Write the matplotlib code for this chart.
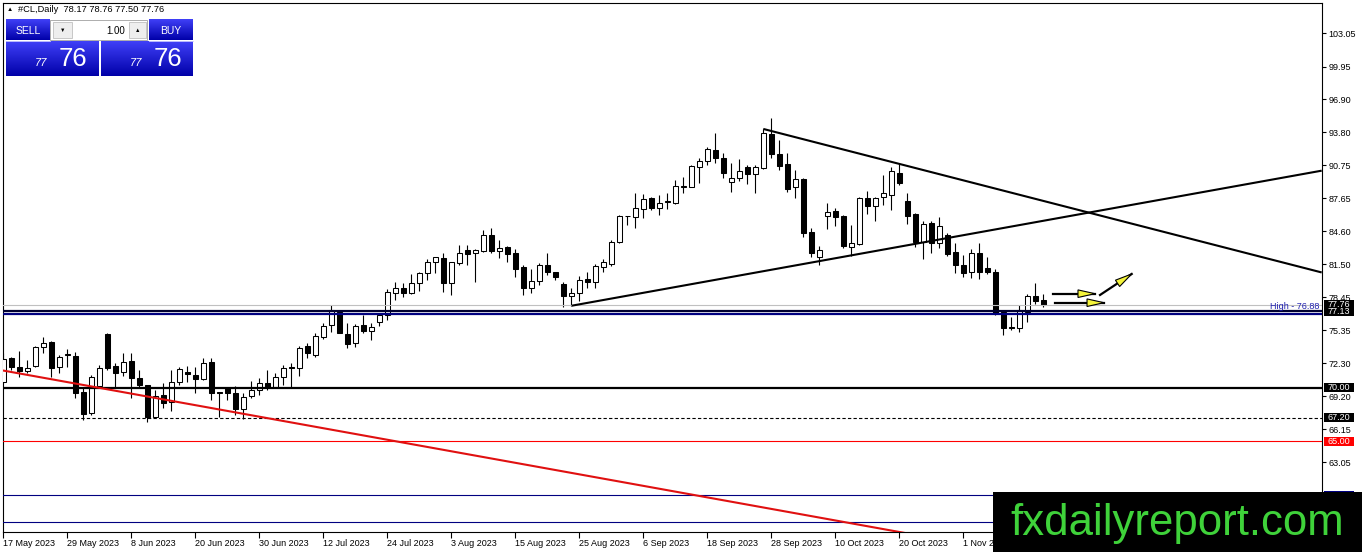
import matplotlib
matplotlib.use('Agg')
import matplotlib.pyplot as plt
from matplotlib.patches import Rectangle, Polygon
from matplotlib.transforms import IdentityTransform
import numpy as np

plt.rcParams['font.family'] = ['Liberation Sans', 'DejaVu Sans']

# ---------------- data ----------------
opens = [70.57, 72.74, 71.90, 71.59, 72.06, 73.77, 74.27, 71.90, 73.05, 72.96,
         69.64, 67.62, 70.20, 75.01, 72.03, 71.50, 72.50, 70.88, 70.23, 67.24,
         69.29, 68.70, 70.51, 71.44, 71.19, 70.82, 72.43, 69.60, 69.95, 69.48,
         67.99, 69.23, 69.79, 70.41, 70.10, 70.97, 71.93, 71.81, 73.89, 73.05,
         74.76, 75.85, 77.09, 74.98, 74.14, 75.82, 75.32, 76.16, 76.78, 78.80,
         79.27, 78.87, 79.74, 80.67, 81.69, 82.07, 79.74, 81.66, 82.85, 82.53,
         82.78, 84.24, 82.78, 83.09, 82.53, 81.23, 79.27, 79.99, 81.45, 80.82,
         79.67, 78.56, 78.87, 80.14, 79.89, 81.29, 81.54, 83.62, 86.02, 85.89,
         86.64, 87.66, 86.73, 87.32, 87.26, 88.72, 88.75, 90.61, 91.17, 92.17,
         91.39, 89.22, 89.53, 90.55, 89.90, 90.46, 93.66, 91.80, 90.86, 88.69,
         89.47, 84.55, 82.22, 86.02, 86.48, 86.02, 83.16, 83.40, 87.66, 86.98,
         87.76, 87.97, 89.99, 87.44, 86.17, 83.62, 85.39, 83.47, 84.24, 82.69,
         81.45, 80.82, 82.60, 81.14, 80.82, 77.09, 75.63, 75.54, 77.09, 78.56,
         78.17]
highs = [73.21, 72.84, 73.43, 72.59, 73.89, 74.76, 74.36, 73.05, 73.58, 73.37,
         70.10, 71.19, 72.12, 75.07, 72.34, 73.21, 73.21, 71.66, 70.23, 69.79,
         70.41, 71.66, 71.97, 72.03, 71.97, 72.74, 72.74, 69.62, 70.01, 70.17,
         69.54, 70.66, 70.88, 71.70, 71.34, 72.12, 72.28, 73.89, 74.20, 75.07,
         76.01, 77.72, 77.25, 76.07, 75.95, 76.78, 76.01, 77.00, 79.21, 79.89,
         79.74, 80.61, 80.82, 82.01, 82.22, 82.53, 81.76, 83.31, 83.31, 82.91,
         84.71, 84.87, 83.78, 83.22, 82.91, 81.45, 81.04, 81.60, 82.53, 80.82,
         79.89, 79.27, 80.45, 80.82, 81.54, 82.00, 83.78, 86.11, 86.05, 88.13,
         88.07, 87.82, 87.97, 88.13, 89.37, 89.68, 90.77, 91.39, 92.48, 93.78,
         91.92, 90.93, 91.30, 90.77, 90.77, 94.13, 95.12, 93.10, 91.86, 90.30,
         89.53, 84.87, 83.22, 87.26, 86.73, 86.11, 85.18, 87.82, 88.38, 87.82,
         89.84, 90.61, 90.86, 88.13, 86.26, 85.58, 85.58, 85.89, 84.46, 83.47,
         82.38, 82.91, 83.53, 82.22, 81.04, 77.25, 76.63, 77.72, 78.74, 79.80,
         78.76]
lows = [70.41, 71.66, 70.97, 71.35, 71.97, 73.21, 71.03, 71.41, 71.97, 69.01,
        67.00, 67.46, 70.10, 71.66, 70.10, 71.10, 69.01, 70.10, 66.84, 67.15,
        68.08, 67.86, 70.26, 70.57, 69.48, 70.72, 68.86, 67.30, 68.86, 67.46,
        67.06, 69.01, 69.33, 69.79, 69.95, 70.26, 70.10, 71.10, 72.74, 72.90,
        74.58, 75.23, 75.07, 73.68, 73.77, 75.07, 74.45, 75.76, 76.32, 78.18,
        78.43, 78.74, 79.05, 80.05, 80.67, 78.96, 78.65, 81.45, 81.45, 79.89,
        82.69, 82.53, 82.07, 81.76, 80.36, 78.65, 78.87, 79.58, 80.51, 80.05,
        77.56, 77.65, 78.12, 79.27, 79.27, 80.82, 81.35, 83.47, 85.18, 84.86,
        85.80, 86.57, 86.11, 86.67, 87.13, 88.13, 88.69, 89.12, 90.77, 90.93,
        89.53, 88.28, 89.31, 89.00, 88.13, 90.37, 91.39, 90.30, 88.28, 87.66,
        84.09, 82.16, 81.45, 84.77, 85.08, 83.00, 82.29, 83.31, 86.20, 85.55,
        87.04, 86.57, 88.90, 85.27, 83.16, 81.98, 82.53, 83.00, 82.29, 80.67,
        80.30, 80.20, 80.11, 80.61, 76.78, 74.92, 75.39, 75.23, 76.16, 77.81,
        77.50]
closes = [72.65, 71.90, 71.59, 71.81, 73.77, 74.14, 71.81, 72.84, 73.12, 69.48,
          67.52, 71.03, 71.81, 71.87, 71.35, 72.43, 70.88, 70.26, 67.30, 69.26,
          68.61, 70.51, 71.72, 71.25, 70.82, 72.34, 69.48, 69.55, 69.48, 67.99,
          69.11, 69.79, 70.41, 70.05, 70.97, 71.81, 71.84, 73.68, 73.21, 74.83,
          75.76, 77.25, 75.14, 74.05, 75.76, 75.32, 75.63, 76.78, 78.90, 79.27,
          78.87, 79.74, 80.67, 81.69, 82.16, 79.74, 81.69, 82.60, 82.44, 82.85,
          84.24, 82.75, 83.00, 82.44, 81.04, 79.27, 79.99, 81.45, 80.82, 80.30,
          78.56, 78.80, 80.05, 79.89, 81.38, 81.69, 83.56, 86.01, 86.00, 86.73,
          87.57, 86.73, 87.20, 87.38, 88.81, 88.78, 90.68, 91.17, 92.23, 91.39,
          90.06, 89.53, 90.24, 89.90, 90.55, 93.72, 91.77, 90.71, 88.53, 89.43,
          84.40, 82.53, 82.84, 86.36, 85.89, 83.22, 83.47, 87.66, 86.95, 87.66,
          88.13, 90.24, 89.06, 86.05, 83.62, 85.27, 83.47, 85.11, 82.44, 81.45,
          80.73, 82.53, 80.82, 80.82, 76.99, 75.54, 75.54, 77.25, 78.56, 78.12,
          77.76]

date_tick_bars = [0, 8, 16, 24, 32, 40, 48, 56, 64, 72, 80, 88, 96, 104, 112, 120]
date_tick_labels = ["17 May 2023", "29 May 2023", "8 Jun 2023", "20 Jun 2023",
                    "30 Jun 2023", "12 Jul 2023", "24 Jul 2023", "3 Aug 2023",
                    "15 Aug 2023", "25 Aug 2023", "6 Sep 2023", "18 Sep 2023",
                    "28 Sep 2023", "10 Oct 2023", "20 Oct 2023", "1 Nov 2023"]
price_ticks = [63.05, 66.15, 69.20, 72.30, 75.35, 78.45, 81.50, 84.60,
               87.65, 90.75, 93.80, 96.90, 99.95, 103.05]

# horizontal levels: (price, line colour, line width, style, label box colour)
levels = [(77.76, '#c0c0c0', 0.8, '-', 'black'),
          (77.13, '#000030', 1.6, '-', 'black'),
          (76.88, '#000080', 1.6, '-', None),
          (70.00, 'black', 1.6, '-', 'black'),
          (67.20, 'black', 0.8, (0, (3, 2)), 'black'),
          (65.00, '#ff0000', 0.8, '-', '#ff0000'),
          (60.00, '#000080', 0.8, '-', '#000080'),
          (57.50, '#000080', 0.8, '-', None)]

# trend lines: (bar indices, prices, colour)
trend_lines = [([71.05, 164.8], [77.65, 90.24], 'black'),
               ([95.0, 164.8], [94.13, 80.75], 'black'),
               ([-0.5, 120.0], [71.67, 55.48], '#e01010')]

# arrows: (start bar, start price), (tip bar, tip price)
arrows = [((131.25, 78.77), (136.46, 78.77)),
          ((131.46, 77.93), (137.59, 77.93)),
          ((137.09, 78.65), (141.05, 80.61))]

header = "#CL,Daily  78.17 78.76 77.50 77.76"

# ---------------- figure ----------------
W, H = 1362, 552
fig = plt.figure(figsize=(W / 100, H / 100), dpi=100)
fig.patch.set_facecolor('white')
L, R, T, B = 2.7, 1321.7, 2.7, 531.7
ax = fig.add_axes([L / W, 1 - B / H, (R - L) / W, (B - T) / H])
ax.set_xlim(-0.075, 164.8)
ax.set_ylim(56.58, 105.90)
ax.set_facecolor('white')

o = np.array(opens); h = np.array(highs); l = np.array(lows); c = np.array(closes)
idx = np.arange(len(o))
ax.vlines(idx, l, h, color='black', lw=0.8, zorder=2)
up = c >= o
bottoms = np.minimum(o, c)
heights = np.maximum(np.abs(c - o), 0.05)
ax.bar(idx, heights, bottom=bottoms, width=0.62,
       color=np.where(up, 'white', 'black'), edgecolor='black',
       linewidth=0.75, zorder=3)

ytr = ax.get_yaxis_transform()
for price, col, lw, ls, box in levels:
    ax.axhline(price, color=col, lw=lw, ls=ls, zorder=4)

for xs, ys, col in trend_lines:
    ax.plot(xs, ys, color=col, lw=1.5, zorder=5, solid_capstyle='butt')

ax.text(1 - 0.0015, 77.56, "High - 76.88", transform=ytr, ha='right',
        va='center', fontsize=6.5, color='#2020b0', zorder=6)

# right-axis label boxes
bw = 30 / (R - L)
bx = 1 + 1.8 / (R - L)
bh = 9 / 10.726
for price, col, lw, ls, box in levels:
    if box is None:
        continue
    ax.add_patch(Rectangle((bx, price - bh / 2), bw, bh, transform=ytr,
                           facecolor=box, edgecolor='none', clip_on=False,
                           zorder=7))
    ax.text(bx + bw / 2, price, f"{price:.2f}", transform=ytr, ha='center',
            va='center', fontsize=6.5, color='white', zorder=8, clip_on=False)

# arrows
fig.canvas.draw()
for start, tip in arrows:
    p0 = ax.transData.transform(start)
    p1 = ax.transData.transform(tip)
    d = p1 - p0
    u = d / np.hypot(*d)
    n = np.array([-u[1], u[0]])
    base = p1 - u * 17
    ax.plot([start[0], tip[0]], [start[1], tip[1]], color='black', lw=1.6,
            zorder=8)
    tri = np.array([p1, base + n * 3.8, base - n * 3.8])
    ax.add_patch(Polygon(tri, closed=True, transform=IdentityTransform(),
                         facecolor='#f4f43a', edgecolor='black', lw=0.8,
                         zorder=9, clip_on=False))

# axes styling
for s in ax.spines.values():
    s.set_color('black'); s.set_linewidth(0.8)
ax.yaxis.tick_right()
ax.set_yticks(price_ticks)
ax.set_yticklabels([f"{v:.2f}" for v in price_ticks])
ax.tick_params(axis='y', length=3, width=0.8, pad=2, labelsize=6.5,
               direction='out', colors='black')
ax.set_xticks(date_tick_bars)
ax.set_xticklabels(date_tick_labels, ha='left')
ax.tick_params(axis='x', length=4, width=0.8, pad=1.5, labelsize=6.5,
               direction='out', colors='black')

# ---------------- overlay (pixel coords) ----------------
ov = fig.add_axes([0, 0, 1, 1], zorder=10)
ov.set_xlim(0, W); ov.set_ylim(H, 0)
ov.axis('off'); ov.patch.set_alpha(0)

ov.text(10, 9.5, '▲', fontsize=4.5, ha='center', va='center', color='black')
ov.text(18.3, 9.5, header, fontsize=6.7, ha='left', va='center', color='black')

grad = np.linspace(0, 1, 64)[:, None]
top_c = np.array([0.25, 0.25, 0.97]); bot_c = np.array([0.0, 0.0, 0.66])
img = top_c[None, None, :] * (1 - grad[..., None]) + bot_c[None, None, :] * grad[..., None]
img = np.repeat(img, 2, axis=1)

def blue_box(x0, y0, x1, y1):
    ov.imshow(img, extent=(x0, x1, y1, y0), aspect='auto', zorder=2,
              interpolation='bilinear')

blue_box(6, 20, 50, 40.5)
blue_box(149, 20, 192.7, 40.5)
blue_box(6, 41.7, 99, 76)
blue_box(101, 41.7, 192.7, 76)
ov.plot([6, 50], [40.9, 40.9], color='#d0d0ff', lw=0.6, zorder=3)
ov.plot([149, 192.7], [40.9, 40.9], color='#d0d0ff', lw=0.6, zorder=3)
ov.text(28, 30.5, 'SELL', color='white', fontsize=7.5, ha='center', va='center', zorder=4)
ov.text(171, 30.5, 'BUY', color='white', fontsize=7.5, ha='center', va='center', zorder=4)
ov.add_patch(Rectangle((50, 20), 97, 20, facecolor='white', edgecolor='#a0a0a0', lw=0.6, zorder=3))
ov.add_patch(Rectangle((53, 22), 19, 16, facecolor='#eeeeee', edgecolor='#c0c0c0', lw=0.6, zorder=4))
ov.add_patch(Rectangle((129, 22), 17, 16, facecolor='#eeeeee', edgecolor='#c0c0c0', lw=0.6, zorder=4))
ov.text(62.5, 30, '▼', fontsize=4, ha='center', va='center', color='black', zorder=5)
ov.text(137.5, 30, '▲', fontsize=4, ha='center', va='center', color='black', zorder=5)
ov.text(125, 30.5, '1.00', fontsize=7, ha='right', va='center', color='black', zorder=5)
for x_small, x_big in [(41, 73), (136, 168)]:
    ov.text(x_small, 66.5, '77', color='white', fontsize=8, fontstyle='italic',
            ha='center', va='baseline', zorder=4)
    ov.text(x_big, 66.5, '76', color='white', fontsize=18.5, ha='center',
            va='baseline', zorder=4)

# watermark
ov.add_patch(Rectangle((993.3, 491.7), W - 993.3, H - 491.7, facecolor='black',
                       edgecolor='none', zorder=20))
ov.text(1010.7, 535, 'fxdailyreport.com', color='#3fd23a', fontsize=31.5,
        ha='left', va='baseline', zorder=21)

fig.savefig('out.png', dpi=100, facecolor='white')
